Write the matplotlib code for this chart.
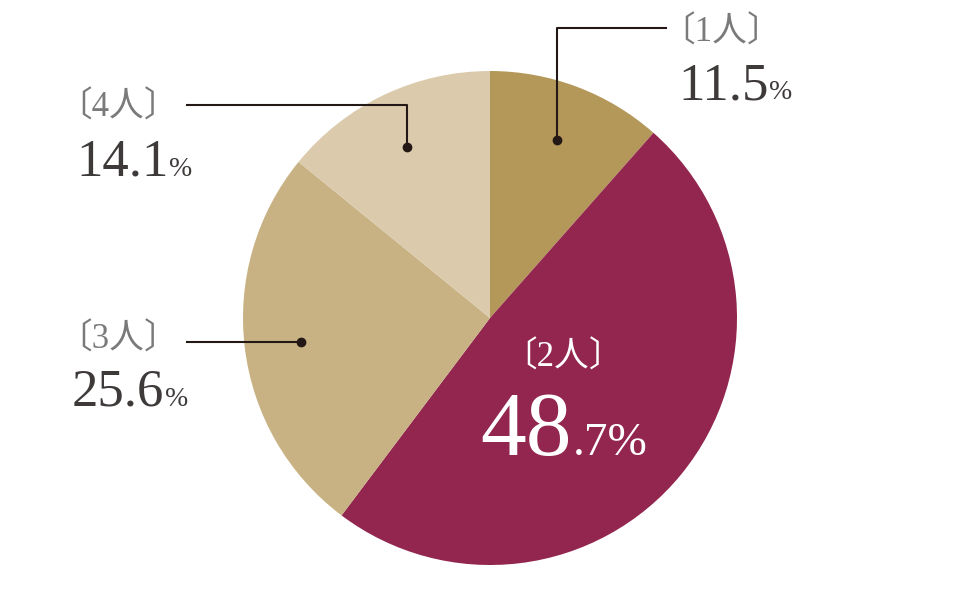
import matplotlib
matplotlib.use('Agg')
import matplotlib.pyplot as plt
import numpy as np

plt.rcParams['font.family'] = ['Liberation Serif', 'Noto Sans CJK JP']

# data
labels = ['1人', '2人', '3人', '4人']
values = [11.5, 48.7, 25.6, 14.1]
colors = ['#b4985a', '#92264e', '#c8b284', '#dbcbac']

W, H = 980, 600
cx, cy, r = 490, H - 318, 247

fig = plt.figure(figsize=(W / 100, H / 100), dpi=100)
ax = fig.add_axes([0, 0, 1, 1])
ax.pie(values, colors=colors, startangle=90, counterclock=False,
       center=(cx, cy), radius=r, wedgeprops=dict(linewidth=0))
ax.set_xlim(0, W)
ax.set_ylim(0, H)
ax.set_aspect('equal')
ax.axis('off')

fig.canvas.draw()
renderer = fig.canvas.get_renderer()


def number(x, y, val, big, small, color, sep_small=False):
    # big number + smaller % on one baseline (pixel coords, top origin)
    s = f'{val:.1f}'
    if sep_small:
        head, tail = s.split('.')[0], '.' + s.split('.')[1] + '%'
    else:
        head, tail = s, '%'
    t = ax.text(x, H - y, head, fontsize=big, color=color, va='baseline', ha='left')
    bb = t.get_window_extent(renderer)
    ax.text(bb.x1 + 1, H - y, tail, fontsize=small, color=color, va='baseline', ha='left')


line_c = '#231815'
grey = '#7a7a7a'
dark = '#3e3a39'
lab_fs = 25

# mid angles of slices (clockwise from top)
cum = np.cumsum([0] + values[:-1])
mids = np.deg2rad((cum + np.array(values) / 2) / 100 * 360)
dot_r = 0.77 * r
dots = [(cx + dot_r * np.sin(a), cy + dot_r * np.cos(a)) for a in mids]

# 1人
dx, dy = dots[0]
ax.plot([dx, dx, 666], [dy, H - 28, H - 28], color=line_c, lw=1.5)
ax.plot(dx, dy, 'o', color=line_c, ms=6)
ax.text(660, H - 33, '〔' + labels[0] + '〕', fontsize=lab_fs, color=grey, va='center', ha='left')
number(678, 99, values[0], 38, 20, dark)

# 4人
dx, dy = dots[3]
ax.plot([dx, dx, 187], [dy, H - 105, H - 105], color=line_c, lw=1.5)
ax.plot(dx, dy, 'o', color=line_c, ms=6)
ax.text(57, H - 108, '〔' + labels[3] + '〕', fontsize=lab_fs, color=grey, va='center', ha='left')
number(76, 176, values[3], 38, 20, dark)

# 3人
dx, dy = dots[2]
ax.plot([dx, 187], [dy, dy], color=line_c, lw=1.5)
ax.plot(dx, dy, 'o', color=line_c, ms=6)
ax.text(57, H - 340, '〔' + labels[2] + '〕', fontsize=lab_fs, color=grey, va='center', ha='left')
number(72, 406, values[2], 38, 20, dark)

# 2人 (inside)
ax.text(563, H - 358, '〔' + labels[1] + '〕', fontsize=lab_fs, color='white', va='center', ha='center')
number(480, 455, values[1], 66, 34, 'white', sep_small=True)

fig.savefig('out.png', dpi=100)
